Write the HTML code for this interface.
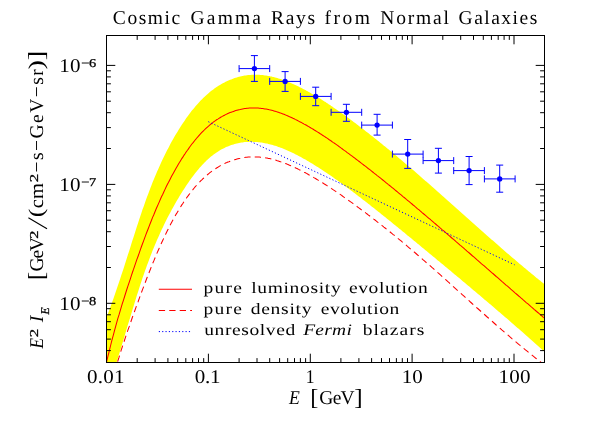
<!DOCTYPE html>
<html><head><meta charset="utf-8"><title>Cosmic Gamma Rays from Normal Galaxies</title>
<style>html,body{margin:0;padding:0;background:#fff;overflow:hidden}svg{display:block}text{font-family:"Liberation Serif",serif;fill:#000;text-rendering:geometricPrecision}</style></head><body>
<svg width="598" height="447" viewBox="0 0 598 447">
<rect width="598" height="447" fill="#fff"/>
<defs><filter id="f" x="-20%" y="-5%" width="140%" height="110%"><feOffset dx="0" dy="0"/></filter><clipPath id="c"><rect x="106.5" y="35.5" width="438.0" height="327.0"/></clipPath></defs>
<g clip-path="url(#c)">
<path d="M101.0,331.4 L102.1,328.7 L103.2,325.9 L104.4,323.1 L105.5,320.2 L106.6,317.3 L107.7,314.3 L108.9,311.3 L110.0,308.2 L111.1,305.1 L112.2,301.9 L113.4,298.8 L114.5,295.5 L115.6,292.3 L116.7,289.0 L117.8,285.7 L119.0,282.3 L120.1,279.0 L121.2,275.6 L122.3,272.2 L123.5,268.7 L124.6,265.2 L125.7,261.8 L126.8,258.3 L127.9,254.7 L129.1,251.2 L130.2,247.7 L131.3,244.1 L132.4,240.6 L133.6,237.0 L134.7,233.5 L135.8,230.0 L136.9,226.5 L138.1,223.0 L139.2,219.6 L140.3,216.2 L141.4,212.9 L142.5,209.6 L143.7,206.4 L144.8,203.2 L145.9,200.0 L147.0,197.0 L148.2,193.9 L149.3,191.0 L150.4,188.0 L151.5,185.2 L152.6,182.3 L153.8,179.6 L154.9,176.8 L156.0,174.2 L157.1,171.5 L158.3,169.0 L159.4,166.4 L160.5,164.0 L161.6,161.5 L162.8,159.1 L163.9,156.8 L165.0,154.5 L166.1,152.2 L167.2,150.0 L168.4,147.9 L169.5,145.7 L170.6,143.6 L171.7,141.6 L172.9,139.6 L174.0,137.6 L175.1,135.6 L176.2,133.7 L177.4,131.9 L178.5,130.0 L179.6,128.2 L180.7,126.5 L181.8,124.7 L183.0,123.0 L184.1,121.4 L185.2,119.7 L186.3,118.1 L187.5,116.6 L188.6,115.0 L189.7,113.5 L190.8,112.1 L191.9,110.6 L193.1,109.2 L194.2,107.9 L195.3,106.5 L196.4,105.2 L197.6,104.0 L198.7,102.7 L199.8,101.5 L200.9,100.3 L202.1,99.2 L203.2,98.1 L204.3,97.0 L205.4,95.9 L206.5,94.9 L207.7,93.9 L208.8,93.0 L209.9,92.0 L211.0,91.1 L212.2,90.3 L213.3,89.4 L214.4,88.6 L215.5,87.8 L216.6,87.0 L217.8,86.3 L218.9,85.6 L220.0,84.9 L221.1,84.2 L222.3,83.6 L223.4,83.0 L224.5,82.4 L225.6,81.8 L226.8,81.3 L227.9,80.8 L229.0,80.3 L230.1,79.8 L231.2,79.4 L232.4,78.9 L233.5,78.5 L234.6,78.1 L235.7,77.8 L236.9,77.4 L238.0,77.1 L239.1,76.8 L240.2,76.5 L241.4,76.2 L242.5,76.0 L243.6,75.8 L244.7,75.6 L245.8,75.4 L247.0,75.2 L248.1,75.1 L249.2,75.0 L250.3,74.9 L251.5,74.8 L252.6,74.8 L253.7,74.7 L254.8,74.7 L255.9,74.7 L257.1,74.7 L258.2,74.7 L259.3,74.8 L260.4,74.9 L261.6,75.0 L262.7,75.1 L263.8,75.2 L264.9,75.4 L266.1,75.5 L267.2,75.7 L268.3,75.9 L269.4,76.1 L270.5,76.4 L271.7,76.6 L272.8,76.9 L273.9,77.1 L275.0,77.4 L276.2,77.8 L277.3,78.1 L278.4,78.4 L279.5,78.8 L280.6,79.1 L281.8,79.5 L282.9,79.9 L284.0,80.3 L285.1,80.7 L286.3,81.2 L287.4,81.6 L288.5,82.1 L289.6,82.5 L290.8,83.0 L291.9,83.5 L293.0,84.0 L294.1,84.5 L295.2,85.0 L296.4,85.5 L297.5,86.1 L298.6,86.6 L299.7,87.2 L300.9,87.8 L302.0,88.3 L303.1,88.9 L304.2,89.5 L305.4,90.1 L306.5,90.7 L307.6,91.3 L308.7,91.9 L309.8,92.6 L311.0,93.2 L312.1,93.9 L313.2,94.5 L314.3,95.2 L315.5,95.8 L316.6,96.5 L317.7,97.2 L318.8,97.9 L319.9,98.6 L321.1,99.3 L322.2,100.0 L323.3,100.7 L324.4,101.4 L325.6,102.1 L326.7,102.9 L327.8,103.6 L328.9,104.4 L330.1,105.1 L331.2,105.9 L332.3,106.6 L333.4,107.4 L334.5,108.2 L335.7,108.9 L336.8,109.7 L337.9,110.5 L339.0,111.3 L340.2,112.1 L341.3,112.9 L342.4,113.7 L343.5,114.5 L344.6,115.3 L345.8,116.1 L346.9,116.9 L348.0,117.8 L349.1,118.6 L350.3,119.4 L351.4,120.3 L352.5,121.1 L353.6,121.9 L354.8,122.8 L355.9,123.6 L357.0,124.5 L358.1,125.3 L359.2,126.2 L360.4,127.0 L361.5,127.9 L362.6,128.7 L363.7,129.6 L364.9,130.5 L366.0,131.4 L367.1,132.2 L368.2,133.1 L369.4,134.0 L370.5,134.9 L371.6,135.7 L372.7,136.6 L373.8,137.5 L375.0,138.4 L376.1,139.3 L377.2,140.2 L378.3,141.1 L379.5,142.0 L380.6,142.9 L381.7,143.8 L382.8,144.7 L383.9,145.7 L385.1,146.6 L386.2,147.5 L387.3,148.4 L388.4,149.3 L389.6,150.3 L390.7,151.2 L391.8,152.1 L392.9,153.0 L394.1,154.0 L395.2,154.9 L396.3,155.8 L397.4,156.8 L398.5,157.7 L399.7,158.7 L400.8,159.6 L401.9,160.6 L403.0,161.5 L404.2,162.5 L405.3,163.4 L406.4,164.4 L407.5,165.3 L408.6,166.3 L409.8,167.3 L410.9,168.2 L412.0,169.2 L413.1,170.1 L414.3,171.1 L415.4,172.1 L416.5,173.0 L417.6,174.0 L418.8,175.0 L419.9,176.0 L421.0,176.9 L422.1,177.9 L423.2,178.9 L424.4,179.9 L425.5,180.9 L426.6,181.8 L427.7,182.8 L428.9,183.8 L430.0,184.8 L431.1,185.8 L432.2,186.8 L433.4,187.8 L434.5,188.8 L435.6,189.7 L436.7,190.7 L437.8,191.7 L439.0,192.7 L440.1,193.7 L441.2,194.7 L442.3,195.7 L443.5,196.7 L444.6,197.7 L445.7,198.7 L446.8,199.7 L447.9,200.7 L449.1,201.7 L450.2,202.7 L451.3,203.7 L452.4,204.7 L453.6,205.7 L454.7,206.7 L455.8,207.7 L456.9,208.7 L458.1,209.7 L459.2,210.7 L460.3,211.7 L461.4,212.7 L462.5,213.7 L463.7,214.7 L464.8,215.7 L465.9,216.7 L467.0,217.7 L468.2,218.7 L469.3,219.7 L470.4,220.7 L471.5,221.7 L472.6,222.7 L473.8,223.7 L474.9,224.7 L476.0,225.7 L477.1,226.7 L478.3,227.7 L479.4,228.7 L480.5,229.7 L481.6,230.7 L482.8,231.7 L483.9,232.7 L485.0,233.7 L486.1,234.7 L487.2,235.7 L488.4,236.7 L489.5,237.7 L490.6,238.7 L491.7,239.7 L492.9,240.6 L494.0,241.6 L495.1,242.6 L496.2,243.6 L497.4,244.6 L498.5,245.6 L499.6,246.5 L500.7,247.5 L501.8,248.5 L503.0,249.5 L504.1,250.4 L505.2,251.4 L506.3,252.4 L507.5,253.4 L508.6,254.3 L509.7,255.3 L510.8,256.3 L511.9,257.2 L513.1,258.2 L514.2,259.1 L515.3,260.1 L516.4,261.0 L517.6,262.0 L518.7,262.9 L519.8,263.9 L520.9,264.8 L522.1,265.8 L523.2,266.7 L524.3,267.7 L525.4,268.6 L526.5,269.5 L527.7,270.5 L528.8,271.4 L529.9,272.3 L531.0,273.3 L532.2,274.2 L533.3,275.1 L534.4,276.0 L535.5,276.9 L536.6,277.9 L537.8,278.8 L538.9,279.7 L540.0,280.6 L541.1,281.5 L542.3,282.4 L543.4,283.3 L544.5,284.2 L545.6,285.1 L546.8,286.0 L547.9,286.8 L549.0,287.7 L549.0,355.7 L547.9,354.7 L546.8,353.7 L545.6,352.7 L544.5,351.7 L543.4,350.7 L542.3,349.7 L541.1,348.7 L540.0,347.7 L538.9,346.7 L537.8,345.7 L536.6,344.7 L535.5,343.7 L534.4,342.7 L533.3,341.7 L532.2,340.7 L531.0,339.7 L529.9,338.7 L528.8,337.7 L527.7,336.7 L526.5,335.7 L525.4,334.7 L524.3,333.8 L523.2,332.8 L522.1,331.8 L520.9,330.8 L519.8,329.8 L518.7,328.8 L517.6,327.9 L516.4,326.9 L515.3,325.9 L514.2,324.9 L513.1,324.0 L511.9,323.0 L510.8,322.0 L509.7,321.0 L508.6,320.1 L507.5,319.1 L506.3,318.1 L505.2,317.2 L504.1,316.2 L503.0,315.2 L501.8,314.3 L500.7,313.3 L499.6,312.3 L498.5,311.4 L497.4,310.4 L496.2,309.4 L495.1,308.5 L494.0,307.5 L492.9,306.6 L491.7,305.6 L490.6,304.6 L489.5,303.7 L488.4,302.7 L487.2,301.8 L486.1,300.8 L485.0,299.9 L483.9,298.9 L482.8,298.0 L481.6,297.0 L480.5,296.1 L479.4,295.1 L478.3,294.2 L477.1,293.2 L476.0,292.3 L474.9,291.3 L473.8,290.4 L472.6,289.4 L471.5,288.5 L470.4,287.5 L469.3,286.6 L468.2,285.7 L467.0,284.7 L465.9,283.8 L464.8,282.8 L463.7,281.9 L462.5,281.0 L461.4,280.0 L460.3,279.1 L459.2,278.1 L458.1,277.2 L456.9,276.3 L455.8,275.3 L454.7,274.4 L453.6,273.4 L452.4,272.5 L451.3,271.6 L450.2,270.6 L449.1,269.7 L447.9,268.8 L446.8,267.8 L445.7,266.9 L444.6,266.0 L443.5,265.0 L442.3,264.1 L441.2,263.2 L440.1,262.2 L439.0,261.3 L437.8,260.4 L436.7,259.5 L435.6,258.5 L434.5,257.6 L433.4,256.7 L432.2,255.7 L431.1,254.8 L430.0,253.9 L428.9,253.0 L427.7,252.0 L426.6,251.1 L425.5,250.2 L424.4,249.2 L423.2,248.3 L422.1,247.4 L421.0,246.5 L419.9,245.5 L418.8,244.6 L417.6,243.7 L416.5,242.8 L415.4,241.8 L414.3,240.9 L413.1,240.0 L412.0,239.1 L410.9,238.1 L409.8,237.2 L408.6,236.3 L407.5,235.4 L406.4,234.4 L405.3,233.5 L404.2,232.6 L403.0,231.7 L401.9,230.8 L400.8,229.8 L399.7,228.9 L398.5,228.0 L397.4,227.1 L396.3,226.2 L395.2,225.3 L394.1,224.4 L392.9,223.4 L391.8,222.5 L390.7,221.6 L389.6,220.7 L388.4,219.8 L387.3,218.9 L386.2,218.0 L385.1,217.1 L383.9,216.2 L382.8,215.3 L381.7,214.4 L380.6,213.5 L379.5,212.6 L378.3,211.7 L377.2,210.8 L376.1,209.9 L375.0,209.0 L373.8,208.1 L372.7,207.3 L371.6,206.4 L370.5,205.5 L369.4,204.6 L368.2,203.7 L367.1,202.8 L366.0,202.0 L364.9,201.1 L363.7,200.2 L362.6,199.4 L361.5,198.5 L360.4,197.6 L359.2,196.8 L358.1,195.9 L357.0,195.0 L355.9,194.2 L354.8,193.3 L353.6,192.5 L352.5,191.6 L351.4,190.8 L350.3,189.9 L349.1,189.1 L348.0,188.3 L346.9,187.4 L345.8,186.6 L344.6,185.8 L343.5,184.9 L342.4,184.1 L341.3,183.3 L340.2,182.5 L339.0,181.6 L337.9,180.8 L336.8,180.0 L335.7,179.2 L334.5,178.4 L333.4,177.6 L332.3,176.8 L331.2,176.1 L330.1,175.3 L328.9,174.5 L327.8,173.7 L326.7,173.0 L325.6,172.2 L324.4,171.5 L323.3,170.7 L322.2,170.0 L321.1,169.2 L319.9,168.5 L318.8,167.8 L317.7,167.1 L316.6,166.4 L315.5,165.7 L314.3,165.0 L313.2,164.3 L312.1,163.6 L311.0,162.9 L309.8,162.2 L308.7,161.6 L307.6,160.9 L306.5,160.3 L305.4,159.6 L304.2,159.0 L303.1,158.4 L302.0,157.7 L300.9,157.1 L299.7,156.5 L298.6,155.9 L297.5,155.3 L296.4,154.8 L295.2,154.2 L294.1,153.6 L293.0,153.1 L291.9,152.5 L290.8,152.0 L289.6,151.5 L288.5,151.0 L287.4,150.5 L286.3,150.0 L285.1,149.5 L284.0,149.0 L282.9,148.6 L281.8,148.1 L280.6,147.7 L279.5,147.3 L278.4,146.9 L277.3,146.5 L276.2,146.1 L275.0,145.8 L273.9,145.4 L272.8,145.1 L271.7,144.8 L270.5,144.4 L269.4,144.2 L268.3,143.9 L267.2,143.6 L266.1,143.4 L264.9,143.2 L263.8,142.9 L262.7,142.8 L261.6,142.6 L260.4,142.4 L259.3,142.3 L258.2,142.2 L257.1,142.1 L255.9,142.0 L254.8,141.9 L253.7,141.9 L252.6,141.8 L251.5,141.8 L250.3,141.8 L249.2,141.8 L248.1,141.9 L247.0,142.0 L245.8,142.0 L244.7,142.1 L243.6,142.3 L242.5,142.4 L241.4,142.6 L240.2,142.8 L239.1,143.0 L238.0,143.2 L236.9,143.5 L235.7,143.7 L234.6,144.0 L233.5,144.4 L232.4,144.7 L231.2,145.1 L230.1,145.5 L229.0,145.9 L227.9,146.4 L226.8,146.8 L225.6,147.3 L224.5,147.9 L223.4,148.4 L222.3,149.0 L221.1,149.6 L220.0,150.3 L218.9,150.9 L217.8,151.7 L216.6,152.4 L215.5,153.2 L214.4,154.0 L213.3,154.8 L212.2,155.7 L211.0,156.6 L209.9,157.5 L208.8,158.5 L207.7,159.5 L206.5,160.6 L205.4,161.7 L204.3,162.8 L203.2,164.0 L202.1,165.1 L200.9,166.4 L199.8,167.6 L198.7,168.9 L197.6,170.3 L196.4,171.7 L195.3,173.1 L194.2,174.5 L193.1,176.0 L191.9,177.5 L190.8,179.0 L189.7,180.6 L188.6,182.2 L187.5,183.8 L186.3,185.5 L185.2,187.2 L184.1,188.9 L183.0,190.6 L181.8,192.4 L180.7,194.2 L179.6,196.1 L178.5,197.9 L177.4,199.8 L176.2,201.8 L175.1,203.7 L174.0,205.7 L172.9,207.7 L171.7,209.8 L170.6,211.9 L169.5,214.0 L168.4,216.1 L167.2,218.3 L166.1,220.5 L165.0,222.8 L163.9,225.1 L162.8,227.4 L161.6,229.8 L160.5,232.2 L159.4,234.7 L158.3,237.2 L157.1,239.8 L156.0,242.4 L154.9,245.1 L153.8,247.8 L152.6,250.6 L151.5,253.4 L150.4,256.3 L149.3,259.3 L148.2,262.3 L147.0,265.3 L145.9,268.4 L144.8,271.6 L143.7,274.8 L142.5,278.1 L141.4,281.4 L140.3,284.8 L139.2,288.3 L138.1,291.8 L136.9,295.3 L135.8,299.0 L134.7,302.6 L133.6,306.3 L132.4,310.0 L131.3,313.7 L130.2,317.4 L129.1,321.1 L127.9,324.8 L126.8,328.6 L125.7,332.3 L124.6,336.0 L123.5,339.8 L122.3,343.5 L121.2,347.2 L120.1,350.9 L119.0,354.6 L117.8,358.4 L116.7,362.1 L115.6,365.7 L114.5,369.4 L113.4,373.1 L112.2,376.8 L111.1,380.4 L110.0,384.0 L108.9,387.7 L107.7,391.3 L106.6,394.8 L105.5,398.4 L104.4,401.9 L103.2,405.5 L102.1,409.0 L101.0,412.5Z" fill="#ffff00" stroke="none"/>
<path d="M101.0,387.6 L102.1,382.2 L103.2,377.0 L104.4,371.8 L105.5,366.8 L106.6,362.0 L107.7,357.2 L108.9,352.5 L110.0,348.0 L111.1,343.5 L112.2,339.2 L113.4,334.9 L114.5,330.7 L115.6,326.7 L116.7,322.7 L117.8,318.7 L119.0,314.9 L120.1,311.1 L121.2,307.4 L122.3,303.7 L123.5,300.1 L124.6,296.5 L125.7,293.0 L126.8,289.5 L127.9,286.1 L129.1,282.6 L130.2,279.3 L131.3,275.9 L132.4,272.5 L133.6,269.2 L134.7,265.9 L135.8,262.7 L136.9,259.4 L138.1,256.2 L139.2,253.1 L140.3,249.9 L141.4,246.8 L142.5,243.7 L143.7,240.6 L144.8,237.6 L145.9,234.6 L147.0,231.7 L148.2,228.7 L149.3,225.9 L150.4,223.0 L151.5,220.2 L152.6,217.4 L153.8,214.7 L154.9,212.0 L156.0,209.3 L157.1,206.7 L158.3,204.1 L159.4,201.6 L160.5,199.0 L161.6,196.6 L162.8,194.2 L163.9,191.8 L165.0,189.4 L166.1,187.1 L167.2,184.8 L168.4,182.6 L169.5,180.4 L170.6,178.2 L171.7,176.1 L172.9,174.0 L174.0,172.0 L175.1,170.0 L176.2,168.0 L177.4,166.0 L178.5,164.1 L179.6,162.3 L180.7,160.4 L181.8,158.6 L183.0,156.9 L184.1,155.1 L185.2,153.5 L186.3,151.8 L187.5,150.2 L188.6,148.6 L189.7,147.0 L190.8,145.5 L191.9,144.0 L193.1,142.6 L194.2,141.2 L195.3,139.8 L196.4,138.5 L197.6,137.2 L198.7,135.9 L199.8,134.6 L200.9,133.4 L202.1,132.2 L203.2,131.1 L204.3,130.0 L205.4,128.9 L206.5,127.9 L207.7,126.8 L208.8,125.9 L209.9,124.9 L211.0,124.0 L212.2,123.1 L213.3,122.2 L214.4,121.4 L215.5,120.6 L216.6,119.8 L217.8,119.1 L218.9,118.4 L220.0,117.7 L221.1,117.0 L222.3,116.4 L223.4,115.8 L224.5,115.2 L225.6,114.6 L226.8,114.1 L227.9,113.6 L229.0,113.1 L230.1,112.6 L231.2,112.2 L232.4,111.8 L233.5,111.4 L234.6,111.0 L235.7,110.6 L236.9,110.3 L238.0,110.0 L239.1,109.7 L240.2,109.5 L241.4,109.2 L242.5,109.0 L243.6,108.8 L244.7,108.6 L245.8,108.5 L247.0,108.3 L248.1,108.2 L249.2,108.1 L250.3,108.0 L251.5,108.0 L252.6,108.0 L253.7,107.9 L254.8,107.9 L255.9,108.0 L257.1,108.0 L258.2,108.1 L259.3,108.2 L260.4,108.3 L261.6,108.4 L262.7,108.5 L263.8,108.7 L264.9,108.9 L266.1,109.1 L267.2,109.3 L268.3,109.5 L269.4,109.8 L270.5,110.0 L271.7,110.3 L272.8,110.6 L273.9,110.9 L275.0,111.2 L276.2,111.6 L277.3,111.9 L278.4,112.3 L279.5,112.7 L280.6,113.1 L281.8,113.5 L282.9,113.9 L284.0,114.3 L285.1,114.8 L286.3,115.3 L287.4,115.7 L288.5,116.2 L289.6,116.7 L290.8,117.2 L291.9,117.7 L293.0,118.3 L294.1,118.8 L295.2,119.4 L296.4,119.9 L297.5,120.5 L298.6,121.1 L299.7,121.7 L300.9,122.3 L302.0,122.9 L303.1,123.5 L304.2,124.1 L305.4,124.7 L306.5,125.3 L307.6,126.0 L308.7,126.6 L309.8,127.3 L311.0,128.0 L312.1,128.6 L313.2,129.3 L314.3,130.0 L315.5,130.7 L316.6,131.4 L317.7,132.1 L318.8,132.8 L319.9,133.5 L321.1,134.2 L322.2,135.0 L323.3,135.7 L324.4,136.4 L325.6,137.2 L326.7,137.9 L327.8,138.7 L328.9,139.5 L330.1,140.2 L331.2,141.0 L332.3,141.8 L333.4,142.6 L334.5,143.3 L335.7,144.1 L336.8,144.9 L337.9,145.7 L339.0,146.5 L340.2,147.3 L341.3,148.2 L342.4,149.0 L343.5,149.8 L344.6,150.6 L345.8,151.4 L346.9,152.3 L348.0,153.1 L349.1,153.9 L350.3,154.8 L351.4,155.6 L352.5,156.4 L353.6,157.3 L354.8,158.1 L355.9,159.0 L357.0,159.8 L358.1,160.7 L359.2,161.5 L360.4,162.4 L361.5,163.3 L362.6,164.1 L363.7,165.0 L364.9,165.9 L366.0,166.7 L367.1,167.6 L368.2,168.5 L369.4,169.4 L370.5,170.2 L371.6,171.1 L372.7,172.0 L373.8,172.9 L375.0,173.8 L376.1,174.7 L377.2,175.6 L378.3,176.4 L379.5,177.3 L380.6,178.2 L381.7,179.1 L382.8,180.0 L383.9,180.9 L385.1,181.9 L386.2,182.8 L387.3,183.7 L388.4,184.6 L389.6,185.5 L390.7,186.4 L391.8,187.3 L392.9,188.2 L394.1,189.2 L395.2,190.1 L396.3,191.0 L397.4,191.9 L398.5,192.8 L399.7,193.8 L400.8,194.7 L401.9,195.6 L403.0,196.6 L404.2,197.5 L405.3,198.4 L406.4,199.4 L407.5,200.3 L408.6,201.2 L409.8,202.2 L410.9,203.1 L412.0,204.0 L413.1,205.0 L414.3,205.9 L415.4,206.9 L416.5,207.8 L417.6,208.8 L418.8,209.7 L419.9,210.7 L421.0,211.6 L422.1,212.6 L423.2,213.5 L424.4,214.5 L425.5,215.4 L426.6,216.4 L427.7,217.3 L428.9,218.3 L430.0,219.2 L431.1,220.2 L432.2,221.1 L433.4,222.1 L434.5,223.1 L435.6,224.0 L436.7,225.0 L437.8,225.9 L439.0,226.9 L440.1,227.9 L441.2,228.8 L442.3,229.8 L443.5,230.7 L444.6,231.7 L445.7,232.7 L446.8,233.6 L447.9,234.6 L449.1,235.6 L450.2,236.5 L451.3,237.5 L452.4,238.5 L453.6,239.4 L454.7,240.4 L455.8,241.4 L456.9,242.3 L458.1,243.3 L459.2,244.3 L460.3,245.3 L461.4,246.2 L462.5,247.2 L463.7,248.2 L464.8,249.2 L465.9,250.1 L467.0,251.1 L468.2,252.1 L469.3,253.0 L470.4,254.0 L471.5,255.0 L472.6,256.0 L473.8,256.9 L474.9,257.9 L476.0,258.9 L477.1,259.9 L478.3,260.8 L479.4,261.8 L480.5,262.8 L481.6,263.8 L482.8,264.8 L483.9,265.7 L485.0,266.7 L486.1,267.7 L487.2,268.7 L488.4,269.6 L489.5,270.6 L490.6,271.6 L491.7,272.6 L492.9,273.5 L494.0,274.5 L495.1,275.5 L496.2,276.5 L497.4,277.4 L498.5,278.4 L499.6,279.4 L500.7,280.4 L501.8,281.4 L503.0,282.3 L504.1,283.3 L505.2,284.3 L506.3,285.3 L507.5,286.2 L508.6,287.2 L509.7,288.2 L510.8,289.2 L511.9,290.1 L513.1,291.1 L514.2,292.1 L515.3,293.1 L516.4,294.0 L517.6,295.0 L518.7,296.0 L519.8,296.9 L520.9,297.9 L522.1,298.9 L523.2,299.9 L524.3,300.8 L525.4,301.8 L526.5,302.8 L527.7,303.7 L528.8,304.7 L529.9,305.7 L531.0,306.7 L532.2,307.6 L533.3,308.6 L534.4,309.6 L535.5,310.5 L536.6,311.5 L537.8,312.5 L538.9,313.4 L540.0,314.4 L541.1,315.3 L542.3,316.3 L543.4,317.3 L544.5,318.2 L545.6,319.2 L546.8,320.1 L547.9,321.1 L549.0,322.1" fill="none" stroke="#ff0000" stroke-width="1.05"/>
<path d="M101.0,427.4 L102.1,422.1 L103.2,417.0 L104.4,412.0 L105.5,407.1 L106.6,402.4 L107.7,397.8 L108.9,393.3 L110.0,388.9 L111.1,384.7 L112.2,380.5 L113.4,376.4 L114.5,372.4 L115.6,368.6 L116.7,364.7 L117.8,361.0 L119.0,357.4 L120.1,353.8 L121.2,350.2 L122.3,346.8 L123.5,343.4 L124.6,340.0 L125.7,336.7 L126.8,333.4 L127.9,330.1 L129.1,326.9 L130.2,323.7 L131.3,320.5 L132.4,317.3 L133.6,314.1 L134.7,311.0 L135.8,307.9 L136.9,304.8 L138.1,301.7 L139.2,298.6 L140.3,295.6 L141.4,292.6 L142.5,289.6 L143.7,286.6 L144.8,283.6 L145.9,280.7 L147.0,277.8 L148.2,274.9 L149.3,272.0 L150.4,269.2 L151.5,266.4 L152.6,263.6 L153.8,260.9 L154.9,258.2 L156.0,255.5 L157.1,252.9 L158.3,250.3 L159.4,247.8 L160.5,245.3 L161.6,242.8 L162.8,240.3 L163.9,237.9 L165.0,235.6 L166.1,233.2 L167.2,231.0 L168.4,228.7 L169.5,226.5 L170.6,224.3 L171.7,222.2 L172.9,220.1 L174.0,218.1 L175.1,216.1 L176.2,214.1 L177.4,212.2 L178.5,210.3 L179.6,208.5 L180.7,206.7 L181.8,204.9 L183.0,203.2 L184.1,201.5 L185.2,199.8 L186.3,198.2 L187.5,196.7 L188.6,195.1 L189.7,193.7 L190.8,192.2 L191.9,190.8 L193.1,189.4 L194.2,188.0 L195.3,186.7 L196.4,185.5 L197.6,184.2 L198.7,183.0 L199.8,181.8 L200.9,180.7 L202.1,179.6 L203.2,178.5 L204.3,177.5 L205.4,176.4 L206.5,175.5 L207.7,174.5 L208.8,173.6 L209.9,172.7 L211.0,171.8 L212.2,171.0 L213.3,170.2 L214.4,169.4 L215.5,168.7 L216.6,168.0 L217.8,167.3 L218.9,166.6 L220.0,165.9 L221.1,165.3 L222.3,164.7 L223.4,164.2 L224.5,163.6 L225.6,163.1 L226.8,162.6 L227.9,162.1 L229.0,161.7 L230.1,161.2 L231.2,160.8 L232.4,160.4 L233.5,160.0 L234.6,159.7 L235.7,159.4 L236.9,159.1 L238.0,158.8 L239.1,158.5 L240.2,158.3 L241.4,158.0 L242.5,157.8 L243.6,157.6 L244.7,157.5 L245.8,157.3 L247.0,157.2 L248.1,157.1 L249.2,157.0 L250.3,156.9 L251.5,156.9 L252.6,156.9 L253.7,156.8 L254.8,156.9 L255.9,156.9 L257.1,156.9 L258.2,157.0 L259.3,157.1 L260.4,157.2 L261.6,157.3 L262.7,157.4 L263.8,157.6 L264.9,157.7 L266.1,157.9 L267.2,158.1 L268.3,158.4 L269.4,158.6 L270.5,158.8 L271.7,159.1 L272.8,159.4 L273.9,159.7 L275.0,160.0 L276.2,160.3 L277.3,160.7 L278.4,161.0 L279.5,161.4 L280.6,161.8 L281.8,162.1 L282.9,162.5 L284.0,163.0 L285.1,163.4 L286.3,163.8 L287.4,164.3 L288.5,164.7 L289.6,165.2 L290.8,165.7 L291.9,166.2 L293.0,166.7 L294.1,167.2 L295.2,167.7 L296.4,168.3 L297.5,168.8 L298.6,169.4 L299.7,169.9 L300.9,170.5 L302.0,171.1 L303.1,171.6 L304.2,172.2 L305.4,172.8 L306.5,173.4 L307.6,174.0 L308.7,174.7 L309.8,175.3 L311.0,175.9 L312.1,176.6 L313.2,177.2 L314.3,177.9 L315.5,178.5 L316.6,179.2 L317.7,179.9 L318.8,180.5 L319.9,181.2 L321.1,181.9 L322.2,182.6 L323.3,183.3 L324.4,184.0 L325.6,184.7 L326.7,185.4 L327.8,186.2 L328.9,186.9 L330.1,187.6 L331.2,188.4 L332.3,189.1 L333.4,189.9 L334.5,190.6 L335.7,191.4 L336.8,192.1 L337.9,192.9 L339.0,193.7 L340.2,194.4 L341.3,195.2 L342.4,196.0 L343.5,196.8 L344.6,197.6 L345.8,198.4 L346.9,199.2 L348.0,200.0 L349.1,200.8 L350.3,201.6 L351.4,202.4 L352.5,203.2 L353.6,204.0 L354.8,204.8 L355.9,205.6 L357.0,206.5 L358.1,207.3 L359.2,208.1 L360.4,209.0 L361.5,209.8 L362.6,210.6 L363.7,211.5 L364.9,212.3 L366.0,213.2 L367.1,214.0 L368.2,214.9 L369.4,215.7 L370.5,216.6 L371.6,217.4 L372.7,218.3 L373.8,219.2 L375.0,220.0 L376.1,220.9 L377.2,221.8 L378.3,222.7 L379.5,223.5 L380.6,224.4 L381.7,225.3 L382.8,226.2 L383.9,227.1 L385.1,228.0 L386.2,228.9 L387.3,229.8 L388.4,230.7 L389.6,231.6 L390.7,232.5 L391.8,233.4 L392.9,234.3 L394.1,235.2 L395.2,236.1 L396.3,237.0 L397.4,238.0 L398.5,238.9 L399.7,239.8 L400.8,240.7 L401.9,241.7 L403.0,242.6 L404.2,243.5 L405.3,244.5 L406.4,245.4 L407.5,246.4 L408.6,247.3 L409.8,248.3 L410.9,249.2 L412.0,250.2 L413.1,251.1 L414.3,252.1 L415.4,253.0 L416.5,254.0 L417.6,255.0 L418.8,255.9 L419.9,256.9 L421.0,257.9 L422.1,258.8 L423.2,259.8 L424.4,260.8 L425.5,261.8 L426.6,262.8 L427.7,263.7 L428.9,264.7 L430.0,265.7 L431.1,266.7 L432.2,267.7 L433.4,268.7 L434.5,269.7 L435.6,270.7 L436.7,271.7 L437.8,272.7 L439.0,273.7 L440.1,274.7 L441.2,275.7 L442.3,276.7 L443.5,277.7 L444.6,278.7 L445.7,279.7 L446.8,280.7 L447.9,281.7 L449.1,282.7 L450.2,283.7 L451.3,284.7 L452.4,285.7 L453.6,286.8 L454.7,287.8 L455.8,288.8 L456.9,289.8 L458.1,290.8 L459.2,291.8 L460.3,292.8 L461.4,293.8 L462.5,294.9 L463.7,295.9 L464.8,296.9 L465.9,297.9 L467.0,298.9 L468.2,299.9 L469.3,300.9 L470.4,302.0 L471.5,303.0 L472.6,304.0 L473.8,305.0 L474.9,306.0 L476.0,307.0 L477.1,308.0 L478.3,309.0 L479.4,310.0 L480.5,311.0 L481.6,312.0 L482.8,313.0 L483.9,314.0 L485.0,315.0 L486.1,316.0 L487.2,317.0 L488.4,318.0 L489.5,319.0 L490.6,320.0 L491.7,321.0 L492.9,322.0 L494.0,323.0 L495.1,324.0 L496.2,325.0 L497.4,326.0 L498.5,327.0 L499.6,327.9 L500.7,328.9 L501.8,329.9 L503.0,330.9 L504.1,331.8 L505.2,332.8 L506.3,333.8 L507.5,334.7 L508.6,335.7 L509.7,336.7 L510.8,337.6 L511.9,338.6 L513.1,339.5 L514.2,340.5 L515.3,341.4 L516.4,342.4 L517.6,343.3 L518.7,344.3 L519.8,345.2 L520.9,346.1 L522.1,347.1 L523.2,348.0 L524.3,348.9 L525.4,349.8 L526.5,350.7 L527.7,351.7 L528.8,352.6 L529.9,353.5 L531.0,354.4 L532.2,355.3 L533.3,356.2 L534.4,357.1 L535.5,358.0 L536.6,358.8 L537.8,359.7 L538.9,360.6 L540.0,361.5 L541.1,362.3 L542.3,363.2 L543.4,364.1 L544.5,364.9 L545.6,365.8 L546.8,366.6 L547.9,367.4 L549.0,368.3" fill="none" stroke="#ff0000" stroke-width="1.05" stroke-dasharray="6.3,4.15" stroke-dashoffset="5.3"/>
<path d="M208.3,121.7 L514.6,264.8" fill="none" stroke="#0000ff" stroke-width="1" stroke-dasharray="1.2,2.14"/>
</g>
<g stroke="#0000ff" stroke-width="1" fill="#0000ff">
<path d="M239.1,68.6H269.7M239.1,65.1V72.1M269.7,65.1V72.1M254.4,55.6V81.4M250.9,55.6H257.9M250.9,81.4H257.9" fill="none"/>
<circle cx="254.4" cy="68.6" r="2.65" stroke="none"/>
<path d="M269.7,81.4H300.4M269.7,77.9V84.9M300.4,77.9V84.9M285.1,71.6V91.4M281.6,71.6H288.6M281.6,91.4H288.6" fill="none"/>
<circle cx="285.1" cy="81.4" r="2.65" stroke="none"/>
<path d="M300.4,96.4H331.1M300.4,92.9V99.9M331.1,92.9V99.9M315.7,87.2V105.7M312.2,87.2H319.2M312.2,105.7H319.2" fill="none"/>
<circle cx="315.7" cy="96.4" r="2.65" stroke="none"/>
<path d="M331.1,112.3H361.7M331.1,108.8V115.8M361.7,108.8V115.8M346.4,104.3V121.3M342.9,104.3H349.9M342.9,121.3H349.9" fill="none"/>
<circle cx="346.4" cy="112.3" r="2.65" stroke="none"/>
<path d="M361.7,125.1H392.4M361.7,121.6V128.6M392.4,121.6V128.6M377.1,114.3V135.1M373.6,114.3H380.6M373.6,135.1H380.6" fill="none"/>
<circle cx="377.1" cy="125.1" r="2.65" stroke="none"/>
<path d="M392.4,154.1H423.1M392.4,150.6V157.6M423.1,150.6V157.6M407.7,139.5V168.4M404.2,139.5H411.2M404.2,168.4H411.2" fill="none"/>
<circle cx="407.7" cy="154.1" r="2.65" stroke="none"/>
<path d="M423.1,160.6H453.7M423.1,157.1V164.1M453.7,157.1V164.1M438.4,148.3V173.1M434.9,148.3H441.9M434.9,173.1H441.9" fill="none"/>
<circle cx="438.4" cy="160.6" r="2.65" stroke="none"/>
<path d="M453.7,170.6H484.4M453.7,167.1V174.1M484.4,167.1V174.1M469.1,156.5V184.6M465.6,156.5H472.6M465.6,184.6H472.6" fill="none"/>
<circle cx="469.1" cy="170.6" r="2.65" stroke="none"/>
<path d="M484.4,178.9H515.1M484.4,175.4V182.4M515.1,175.4V182.4M499.7,165.1V192.2M496.2,165.1H503.2M496.2,192.2H503.2" fill="none"/>
<circle cx="499.7" cy="178.9" r="2.65" stroke="none"/>
</g>
<path d="M137.2,362.5v-4.4M137.2,35.5v4.4M155.1,362.5v-4.4M155.1,35.5v4.4M167.9,362.5v-4.4M167.9,35.5v4.4M177.7,362.5v-4.4M177.7,35.5v4.4M185.8,362.5v-4.4M185.8,35.5v4.4M192.6,362.5v-4.4M192.6,35.5v4.4M198.5,362.5v-4.4M198.5,35.5v4.4M203.7,362.5v-4.4M203.7,35.5v4.4M208.4,362.5v-8.8M208.4,35.5v8.8M239.1,362.5v-4.4M239.1,35.5v4.4M257.0,362.5v-4.4M257.0,35.5v4.4M269.7,362.5v-4.4M269.7,35.5v4.4M279.6,362.5v-4.4M279.6,35.5v4.4M287.7,362.5v-4.4M287.7,35.5v4.4M294.5,362.5v-4.4M294.5,35.5v4.4M300.4,362.5v-4.4M300.4,35.5v4.4M305.6,362.5v-4.4M305.6,35.5v4.4M310.3,362.5v-8.8M310.3,35.5v8.8M340.9,362.5v-4.4M340.9,35.5v4.4M358.9,362.5v-4.4M358.9,35.5v4.4M371.6,362.5v-4.4M371.6,35.5v4.4M381.5,362.5v-4.4M381.5,35.5v4.4M389.5,362.5v-4.4M389.5,35.5v4.4M396.4,362.5v-4.4M396.4,35.5v4.4M402.3,362.5v-4.4M402.3,35.5v4.4M407.5,362.5v-4.4M407.5,35.5v4.4M412.1,362.5v-8.8M412.1,35.5v8.8M442.8,362.5v-4.4M442.8,35.5v4.4M460.7,362.5v-4.4M460.7,35.5v4.4M473.5,362.5v-4.4M473.5,35.5v4.4M483.3,362.5v-4.4M483.3,35.5v4.4M491.4,362.5v-4.4M491.4,35.5v4.4M498.2,362.5v-4.4M498.2,35.5v4.4M504.1,362.5v-4.4M504.1,35.5v4.4M509.3,362.5v-4.4M509.3,35.5v4.4M514.0,362.5v-8.8M514.0,35.5v8.8M106.5,350.6h4.4M544.5,350.6h-4.4M106.5,339.1h4.4M544.5,339.1h-4.4M106.5,329.7h4.4M544.5,329.7h-4.4M106.5,321.7h4.4M544.5,321.7h-4.4M106.5,314.8h4.4M544.5,314.8h-4.4M106.5,308.7h4.4M544.5,308.7h-4.4M106.5,303.3h8.8M544.5,303.3h-8.8M106.5,267.5h4.4M544.5,267.5h-4.4M106.5,246.5h4.4M544.5,246.5h-4.4M106.5,231.7h4.4M544.5,231.7h-4.4M106.5,220.2h4.4M544.5,220.2h-4.4M106.5,210.7h4.4M544.5,210.7h-4.4M106.5,202.8h4.4M544.5,202.8h-4.4M106.5,195.9h4.4M544.5,195.9h-4.4M106.5,189.8h4.4M544.5,189.8h-4.4M106.5,184.4h8.8M544.5,184.4h-8.8M106.5,148.5h4.4M544.5,148.5h-4.4M106.5,127.6h4.4M544.5,127.6h-4.4M106.5,112.7h4.4M544.5,112.7h-4.4M106.5,101.2h4.4M544.5,101.2h-4.4M106.5,91.8h4.4M544.5,91.8h-4.4M106.5,83.8h4.4M544.5,83.8h-4.4M106.5,76.9h4.4M544.5,76.9h-4.4M106.5,70.8h4.4M544.5,70.8h-4.4M106.5,65.4h8.8M544.5,65.4h-8.8" stroke="#000" stroke-width="1" fill="none"/>
<rect x="106.5" y="35.5" width="438.0" height="327.0" fill="none" stroke="#000" stroke-width="1"/>
<g opacity="0.999">
<text transform="translate(112.85,23.90) scale(1.000,1)" font-size="19.5" textLength="67.34" lengthAdjust="spacing">Cosmic</text>
<text transform="translate(190.55,23.90) scale(1.000,1)" font-size="19.5" textLength="70.48" lengthAdjust="spacing">Gamma</text>
<text transform="translate(271.00,23.90) scale(1.000,1)" font-size="19.5" textLength="44.00" lengthAdjust="spacing">Rays</text>
<text transform="translate(324.50,23.90) scale(1.000,1)" font-size="19.5" textLength="45.41" lengthAdjust="spacing">from</text>
<text transform="translate(380.20,23.90) scale(1.000,1)" font-size="19.5" textLength="68.83" lengthAdjust="spacing">Normal</text>
<text transform="translate(458.55,23.90) scale(1.000,1)" font-size="19.5" textLength="78.73" lengthAdjust="spacing">Galaxies</text>
<text transform="translate(203.55,292.80) scale(1.220,1)" font-size="16" textLength="31.51" lengthAdjust="spacing">pure</text>
<text transform="translate(251.15,292.80) scale(1.220,1)" font-size="16" textLength="73.37" lengthAdjust="spacing">luminosity</text>
<text transform="translate(348.95,292.80) scale(1.220,1)" font-size="16" textLength="64.54" lengthAdjust="spacing">evolution</text>
<text transform="translate(203.55,314.00) scale(1.220,1)" font-size="16" textLength="31.51" lengthAdjust="spacing">pure</text>
<text transform="translate(250.65,314.00) scale(1.220,1)" font-size="16" textLength="49.91" lengthAdjust="spacing">density</text>
<text transform="translate(320.65,314.00) scale(1.220,1)" font-size="16" textLength="64.54" lengthAdjust="spacing">evolution</text>
<text transform="translate(204.25,335.40) scale(1.220,1)" font-size="16" textLength="74.51" lengthAdjust="spacing">unresolved</text>
<text transform="translate(303.20,335.40) scale(1.220,1)" font-size="16" font-style="italic" textLength="39.93" lengthAdjust="spacing">Fermi</text>
<text transform="translate(362.70,335.40) scale(1.220,1)" font-size="16" textLength="50.64" lengthAdjust="spacing">blazars</text>
<text transform="translate(86.95,382.50) scale(1.080,1)" font-size="19.5" textLength="34.82" lengthAdjust="spacing">0.01</text>
<text transform="translate(194.65,382.50) scale(1.080,1)" font-size="19.5" textLength="23.91" lengthAdjust="spacing">0.1</text>
<text transform="translate(305.70,382.50) scale(0.902,1)" font-size="19.5">1</text>
<text transform="translate(401.65,382.50) scale(1.080,1)" font-size="19.5" textLength="19.50" lengthAdjust="spacing">10</text>
<text transform="translate(498.45,382.50) scale(1.080,1)" font-size="19.5" textLength="29.71" lengthAdjust="spacing">100</text>
<text transform="translate(59.25,72.00) scale(1.080,1)" font-size="19.5" textLength="19.73" lengthAdjust="spacing">10</text>
<text transform="translate(81.25,66.80) scale(1.200,1)" font-size="12" stroke="#000" stroke-width="0.3" textLength="12.36" lengthAdjust="spacing">−6</text>
<text transform="translate(59.25,190.95) scale(1.080,1)" font-size="19.5" textLength="19.73" lengthAdjust="spacing">10</text>
<text transform="translate(81.25,185.75) scale(1.200,1)" font-size="12" stroke="#000" stroke-width="0.3" textLength="12.36" lengthAdjust="spacing">−7</text>
<text transform="translate(59.25,309.90) scale(1.080,1)" font-size="19.5" textLength="19.73" lengthAdjust="spacing">10</text>
<text transform="translate(81.25,304.70) scale(1.200,1)" font-size="12" stroke="#000" stroke-width="0.3" textLength="12.36" lengthAdjust="spacing">−8</text>
<text transform="translate(289.05,403.90) scale(0.910,1)" font-size="19.5" font-style="italic">E</text>
<text transform="translate(310.35,405.00) scale(1.054,1)" font-size="22.99">[</text>
<text transform="translate(319.35,403.90) scale(1.000,1)" font-size="19.5" textLength="35.33" lengthAdjust="spacing">GeV</text>
<text transform="translate(354.20,405.00) scale(1.101,1)" font-size="22.99">]</text>
</g>
<g filter="url(#f)"><g transform="translate(0,348.0) rotate(-90)">
<text transform="translate(-0.55,42.90) scale(0.888,1)" font-size="19.5" font-style="italic">E</text>
<text transform="translate(10.85,38.00) scale(1.400,1)" font-size="12" stroke="#000" stroke-width="0.3">2</text>
<text transform="translate(25.70,42.90) scale(1.000,1)" font-size="19.5" font-style="italic">I</text>
<text transform="translate(33.45,48.50) scale(0.964,1)" font-size="12" font-style="italic" stroke="#000" stroke-width="0.3">E</text>
<text transform="translate(67.95,44.10) scale(1.054,1)" font-size="23.0">[</text>
<text transform="translate(76.55,42.90) scale(1.000,1)" font-size="19.5" textLength="34.33" lengthAdjust="spacing">GeV</text>
<text transform="translate(109.15,38.00) scale(1.364,1)" font-size="12" stroke="#000" stroke-width="0.3">2</text>
<text transform="translate(130.75,42.85) scale(1.238,1)" font-size="20.98">(</text>
<text transform="translate(139.85,42.90) scale(1.050,1)" font-size="19.5" textLength="23.83" lengthAdjust="spacing">cm</text>
<text transform="translate(165.65,38.00) scale(1.400,1)" font-size="12" stroke="#000" stroke-width="0.3">2</text>
<text transform="translate(175.50,42.90) scale(1.000,1)" font-size="19.5" textLength="103.23" lengthAdjust="spacing">−s−GeV−sr</text>
<text transform="translate(278.60,42.60) scale(1.330,1)" font-size="21.26">)</text>
<text transform="translate(287.70,44.10) scale(1.245,1)" font-size="23.0">]</text>
<path d="M119.2,47.0L130.3,28.4" stroke="#000" stroke-width="1.1" fill="none"/>
</g></g>
<path d="M158.8,289.2H192.0" stroke="#ff0000" stroke-width="1.05"/>
<path d="M158.8,310.4H192.0" stroke="#ff0000" stroke-width="1.05" stroke-dasharray="6.3,4.15"/>
<path d="M158.8,331.6H192.0" stroke="#0000ff" stroke-width="1" stroke-dasharray="1.2,2.14"/>
</svg></body></html>
